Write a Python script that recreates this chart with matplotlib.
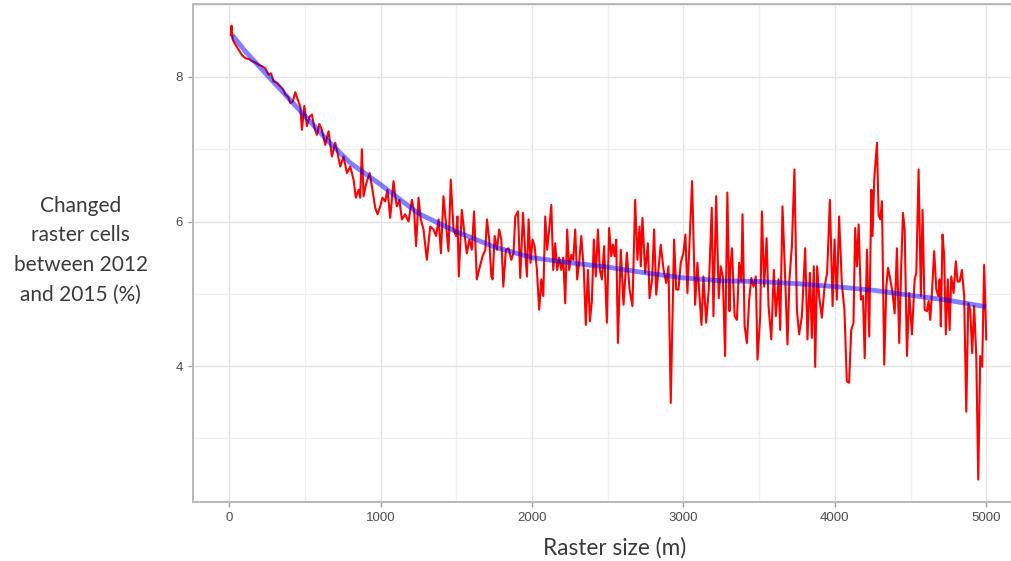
import matplotlib
matplotlib.use("Agg")
import matplotlib.pyplot as plt
from matplotlib.ticker import MultipleLocator

# raster size (m) and share of changed cells (%)
raster_size = [
    10, 15, 22, 40, 61, 85, 106, 128, 150, 172, 194, 216, 238, 260, 276, 293, 315, 337, 355, 370,
    390, 403, 420, 436, 450, 469, 480, 496, 513, 530, 546, 562, 579, 595, 612, 634, 656, 678, 700, 715,
    733, 755, 777, 799, 821, 836, 854, 865, 876, 887, 905, 927, 942, 964, 980, 997, 1012, 1030, 1045, 1063,
    1085, 1096, 1107, 1124, 1140, 1162, 1184, 1206, 1221, 1234, 1250, 1265, 1283, 1305, 1327, 1349, 1366, 1383, 1398, 1415,
    1433, 1448, 1463, 1481, 1498, 1507, 1516, 1536, 1553, 1569, 1586, 1602, 1617, 1635, 1658, 1673, 1691, 1702, 1717, 1731,
    1739, 1753, 1768, 1783, 1797, 1810, 1827, 1845, 1863, 1878, 1889, 1907, 1922, 1940, 1955, 1966, 1977, 1990, 2003, 2017,
    2032, 2047, 2061, 2074, 2087, 2100, 2113, 2127, 2140, 2153, 2166, 2179, 2193, 2206, 2219, 2232, 2245, 2259, 2272, 2285,
    2298, 2311, 2325, 2342, 2355, 2369, 2382, 2395, 2408, 2421, 2435, 2448, 2461, 2476, 2494, 2509, 2523, 2534, 2545, 2556,
    2567, 2586, 2604, 2626, 2644, 2663, 2681, 2696, 2710, 2718, 2729, 2747, 2765, 2776, 2793, 2806, 2820, 2835, 2850, 2868,
    2886, 2901, 2916, 2938, 2952, 2967, 2982, 3000, 3013, 3026, 3040, 3057, 3077, 3092, 3106, 3119, 3132, 3150, 3167, 3187,
    3198, 3216, 3233, 3246, 3260, 3275, 3290, 3304, 3309, 3320, 3338, 3353, 3368, 3382, 3390, 3404, 3419, 3434, 3448, 3463,
    3478, 3489, 3507, 3518, 3533, 3549, 3562, 3580, 3597, 3610, 3628, 3639, 3654, 3672, 3687, 3700, 3716, 3733, 3749, 3764,
    3782, 3804, 3819, 3835, 3848, 3861, 3870, 3883, 3896, 3914, 3932, 3949, 3967, 3985, 3998, 4013, 4028, 4046, 4063, 4079,
    4094, 4108, 4123, 4134, 4146, 4157, 4172, 4186, 4197, 4212, 4227, 4241, 4249, 4260, 4278, 4289, 4300, 4311, 4326, 4340,
    4351, 4366, 4381, 4395, 4410, 4425, 4439, 4450, 4461, 4476, 4491, 4509, 4527, 4538, 4553, 4568, 4579, 4593, 4608, 4619,
    4630, 4641, 4656, 4670, 4683, 4692, 4700, 4711, 4722, 4733, 4746, 4758, 4769, 4784, 4799, 4810, 4824, 4839, 4854, 4868,
    4881, 4894, 4907, 4920, 4934, 4947, 4960, 4973, 4986, 5000,
]
changed_pct = [
    8.58, 8.71, 8.52, 8.45, 8.38, 8.30, 8.26, 8.25, 8.22, 8.20, 8.17, 8.15, 8.12, 8.03, 8.05, 7.94, 7.92, 7.87, 7.83, 7.76,
    7.72, 7.64, 7.66, 7.79, 7.70, 7.59, 7.27, 7.60, 7.32, 7.45, 7.48, 7.30, 7.20, 7.35, 7.27, 7.06, 7.25, 6.90, 7.09, 6.95,
    6.76, 6.90, 6.67, 6.76, 6.58, 6.33, 6.44, 6.33, 7.00, 6.35, 6.53, 6.67, 6.49, 6.19, 6.10, 6.21, 6.33, 6.28, 6.44, 6.05,
    6.56, 6.35, 6.21, 6.30, 6.03, 6.10, 6.00, 6.30, 6.14, 5.66, 6.33, 6.03, 5.89, 5.47, 5.93, 5.89, 5.80, 6.03, 5.56, 6.35,
    5.93, 5.59, 6.58, 5.89, 5.80, 6.07, 5.24, 6.16, 5.84, 5.56, 5.75, 5.61, 6.14, 5.20, 5.40, 5.52, 5.61, 6.03, 5.75, 5.24,
    5.20, 5.80, 5.61, 5.89, 5.75, 5.10, 5.61, 5.63, 5.47, 5.57, 6.07, 6.14, 5.22, 6.12, 5.57, 5.24, 6.03, 5.43, 5.75, 5.66,
    5.33, 4.78, 5.20, 4.97, 6.07, 5.61, 5.89, 6.23, 5.33, 5.70, 5.33, 5.50, 5.33, 5.50, 4.87, 5.89, 5.33, 5.54, 5.47, 5.89,
    5.20, 5.43, 5.80, 5.33, 4.57, 5.33, 4.62, 4.90, 5.75, 5.24, 5.89, 5.33, 5.20, 5.66, 4.60, 5.91, 5.52, 5.68, 5.52, 5.75,
    4.32, 5.61, 4.85, 5.57, 5.06, 4.83, 6.30, 5.47, 5.93, 5.38, 6.05, 5.29, 5.70, 4.94, 5.20, 5.89, 4.99, 5.34, 5.68, 5.34,
    5.15, 5.38, 3.49, 5.75, 5.06, 5.06, 5.43, 5.57, 5.82, 5.01, 5.70, 6.56, 4.85, 5.43, 4.97, 4.57, 5.24, 4.60, 5.06, 6.19,
    4.69, 6.35, 4.94, 5.38, 5.24, 4.14, 6.40, 4.76, 5.33, 5.63, 4.69, 4.64, 5.43, 5.17, 6.10, 4.55, 4.32, 4.92, 5.22, 5.10,
    5.24, 4.09, 4.69, 6.14, 5.10, 5.77, 4.83, 4.37, 5.33, 4.69, 5.20, 4.50, 6.21, 5.20, 4.30, 5.20, 5.66, 6.72, 4.78, 4.44,
    4.69, 5.63, 4.37, 5.29, 4.39, 5.38, 3.99, 5.38, 4.97, 4.67, 5.10, 5.29, 6.30, 4.83, 5.75, 4.92, 6.07, 5.15, 4.78, 3.79,
    3.77, 4.50, 4.60, 5.91, 5.38, 5.96, 4.92, 4.97, 4.11, 5.61, 4.41, 6.44, 5.80, 6.58, 7.09, 6.09, 6.03, 6.28, 4.02, 5.10,
    5.36, 5.20, 5.01, 4.73, 5.63, 4.32, 5.43, 6.12, 5.89, 4.14, 5.01, 4.44, 5.20, 5.29, 6.72, 4.97, 6.16, 4.78, 4.76, 4.90,
    4.64, 5.01, 5.59, 5.06, 4.97, 5.20, 4.55, 5.82, 5.52, 4.44, 5.20, 4.50, 5.24, 5.01, 5.45, 5.17, 5.17, 5.33, 4.97, 3.37,
    4.87, 4.78, 4.18, 4.83, 4.14, 2.43, 4.14, 3.99, 5.40, 4.37,
]

# smoothed trend (blue)
trend_size = [20, 100, 200, 350, 500, 650, 800, 1000, 1250, 1500, 1750, 2000, 2250, 2500, 2750, 3000,
              3250, 3500, 3750, 4000, 4250, 4500, 4750, 5000]
trend_pct = [8.58, 8.37, 8.14, 7.80, 7.46, 7.12, 6.81, 6.51, 6.11, 5.86, 5.65, 5.50, 5.43, 5.37, 5.29, 5.22,
             5.18, 5.17, 5.14, 5.10, 5.05, 4.98, 4.91, 4.82]

fig = plt.figure(figsize=(10.11, 5.61), dpi=100)
# panel runs past the right edge of the picture, like the cropped original
ax = fig.add_axes([0.1909, 0.1052, 0.822, 0.8877])

ax.plot(raster_size, changed_pct, color='red', linewidth=1.5, zorder=3)
ax.plot(trend_size, trend_pct, color='blue', alpha=0.5, linewidth=3.5,
        solid_capstyle='butt', zorder=4)

ax.set_xlim(-239.5, 5249.5)
ax.set_ylim(2.12, 9.01)
ax.xaxis.set_major_locator(MultipleLocator(1000))
ax.xaxis.set_minor_locator(MultipleLocator(500))
ax.yaxis.set_major_locator(MultipleLocator(2))
ax.yaxis.set_minor_locator(MultipleLocator(1))

ax.grid(which='major', color='#e3e3e3', linewidth=1.0)
ax.grid(which='minor', color='#efefef', linewidth=0.9)
ax.set_axisbelow(True)

for s in ax.spines.values():
    s.set_color('#b8b8b8')
    s.set_linewidth(1.4)
ax.spines['right'].set_visible(False)

ax.tick_params(which='major', length=3.5, width=0.9, color='#9a9a9a',
               labelsize=9.5, labelcolor='#4d4d4d', pad=4)
ax.tick_params(which='minor', length=0)
for lab in ax.get_xticklabels() + ax.get_yticklabels():
    lab.set_family(['Liberation Sans', 'DejaVu Sans'])

fig.text(0.080, 0.554, "Changed\nraster cells\nbetween 2012\nand 2015 (%)",
         ha='center', va='center', fontsize=15, color='#3a3a3a', linespacing=1.6,
         family=['Lato', 'DejaVu Sans'])
fig.text(0.608, 0.023, "Raster size (m)", ha='center', va='center',
         fontsize=16.3, color='#3a3a3a', family=['Lato', 'DejaVu Sans'])

fig.savefig("out.png", dpi=100)
